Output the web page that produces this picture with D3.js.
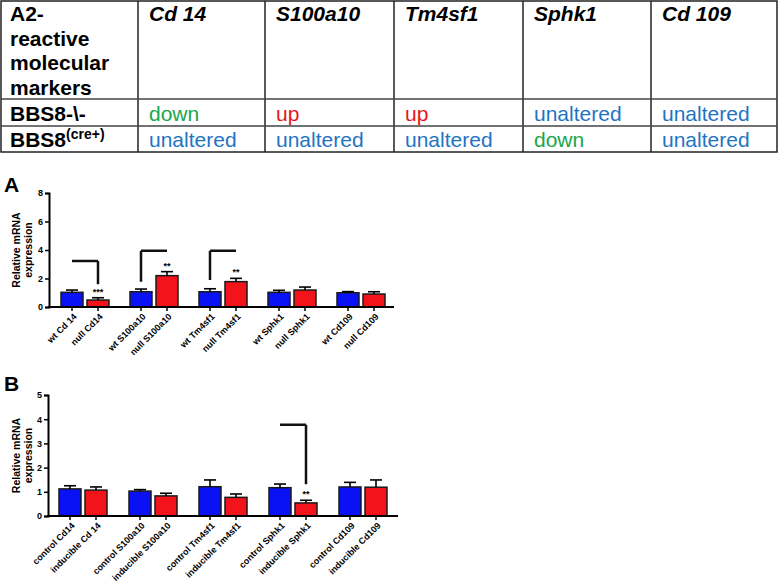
<!DOCTYPE html>
<html><head><meta charset="utf-8">
<script src="https://cdn.jsdelivr.net/npm/d3@7"></script>
<style>
body{margin:0;background:#fff;}
text{font-family:Arial,"Liberation Sans",Helvetica,sans-serif;}
</style></head>
<body>
<script>
// ---------- data ----------
const tableCorner = ["A2-", "reactive", "molecular", "markers"];
const tableGenes = ["Cd 14", "S100a10", "Tm4sf1", "Sphk1", "Cd 109"];
const rowNames = ["BBS8-\\-", "BBS8"];
const rowNull = ["down", "up", "up", "unaltered", "unaltered"];
const rowCre = ["unaltered", "unaltered", "unaltered", "down", "unaltered"];

const groups = ["Cd14", "S100a10", "Tm4sf1", "Sphk1", "Cd109"];
const labelsWtA = ["wt Cd 14", "wt S100a10", "wt Tm4sf1", "wt Sphk1", "wt Cd109"];
const labelsNullA = ["null Cd14", "null S100a10", "null Tm4sf1", "null Sphk1", "null Cd109"];
const wtA = [1.03, 1.07, 1.07, 1.03, 1.00];
const wtErrA = [0.16, 0.19, 0.21, 0.14, 0.08];
const nullA = [0.49, 2.20, 1.78, 1.19, 0.91];
const nullErrA = [0.16, 0.28, 0.23, 0.21, 0.16];
const starsA = ["***", "**", "**", "", ""];
const yTicksA = [0, 2, 4, 6, 8];
// brackets: group index, top value, bottom value, side of the vertical drop
const bracketsA = [
  {g: 0, top: 3.23, bottom: 1.60, side: "null"},
  {g: 1, top: 3.95, bottom: 1.77, side: "wt"},
  {g: 2, top: 3.95, bottom: 1.89, side: "wt"}
];

const labelsCtrlB = ["control Cd14", "control S100a10", "control Tm4sf1", "control Sphk1", "control Cd109"];
const labelsIndB = ["inducible  Cd 14", "inducible S100a10", "inducible Tm4sf1", "inducible Sphk1", "inducible  Cd109"];
const ctrlB = [1.12, 1.03, 1.21, 1.17, 1.20];
const ctrlErrB = [0.13, 0.06, 0.28, 0.15, 0.19];
const indB = [1.07, 0.83, 0.77, 0.54, 1.19];
const indErrB = [0.13, 0.11, 0.14, 0.11, 0.30];
const starsB = ["", "", "", "**", ""];
const yTicksB = [0, 1, 2, 3, 4, 5];
const bracketsB = [
  {g: 3, top: 3.77, bottom: 1.31, side: "null"}
];

// ---------- setup ----------
const W = 778, H = 583;
const svg = d3.select("body").append("svg").attr("width", W).attr("height", H);
const FONT = "Arial, 'Liberation Sans', Helvetica, sans-serif";

// ---------- table ----------
const colX = [1, 138, 265, 394, 523, 651, 777];
const rowY = [1, 99, 126, 152];
const tbl = svg.append("g");
const statusColor = {down: "#19a64d", up: "#e8161c", unaltered: "#1f74c2"};

tbl.append("rect").attr("x", colX[0]).attr("y", rowY[0])
  .attr("width", colX[6] - colX[0]).attr("height", rowY[3] - rowY[0])
  .attr("fill", "none").attr("stroke", "#222").attr("stroke-width", 1.5);
colX.slice(1, -1).forEach(x => tbl.append("line").attr("x1", x).attr("x2", x)
  .attr("y1", rowY[0]).attr("y2", rowY[3]).attr("stroke", "#222").attr("stroke-width", 1.5));
rowY.slice(1, -1).forEach(y => tbl.append("line").attr("x1", colX[0]).attr("x2", colX[6])
  .attr("y1", y).attr("y2", y).attr("stroke", "#444").attr("stroke-width", 1.5));

tableCorner.forEach((t, i) => tbl.append("text").attr("x", 10).attr("y", 21 + i * 24.5)
  .attr("font-size", 21).attr("font-weight", "bold").text(t));
tableGenes.forEach((t, i) => tbl.append("text").attr("x", colX[i + 1] + 11).attr("y", 21)
  .attr("font-size", 21).attr("font-weight", "bold").attr("font-style", "italic").text(t));

tbl.append("text").attr("x", 10).attr("y", 121).attr("font-size", 21).attr("font-weight", "bold").text(rowNames[0]);
const cre = tbl.append("text").attr("x", 10).attr("y", 147).attr("font-size", 21).attr("font-weight", "bold");
cre.append("tspan").text(rowNames[1]);
cre.append("tspan").attr("font-size", 14).attr("dy", -8).text("(cre+)");

rowNull.forEach((t, i) => tbl.append("text").attr("x", colX[i + 1] + 11).attr("y", 121)
  .attr("font-size", 21).attr("fill", statusColor[t]).text(t));
rowCre.forEach((t, i) => tbl.append("text").attr("x", colX[i + 1] + 11).attr("y", 147)
  .attr("font-size", 21).attr("fill", statusColor[t]).text(t));

// ---------- bar panels ----------
function panel(opt) {
  const g = svg.append("g");
  const x = d3.scaleBand().domain(groups).range([opt.x0, opt.x1]);
  const inner = d3.scaleBand().domain(["a", "b"]).range(opt.inner).paddingInner(4 / 26);
  const y = d3.scaleLinear().domain([0, opt.ymax]).range([opt.yBottom, opt.yTop]);

  // panel letter
  g.append("text").attr("x", 4).attr("y", opt.letterY).attr("font-size", 21)
    .attr("font-weight", "bold").text(opt.letter);

  // y label
  const yl = g.append("text").attr("transform", `translate(20,${(opt.yTop + opt.yBottom) / 2}) rotate(-90)`)
    .attr("text-anchor", "middle").attr("font-size", 10.5).attr("font-weight", "bold");
  yl.append("tspan").attr("x", 0).attr("dy", 0).text("Relative mRNA");
  yl.append("tspan").attr("x", 0).attr("dy", 11.5).text("expression");

  // y axis
  const ya = g.append("g").attr("transform", `translate(${opt.x0},0)`)
    .call(d3.axisLeft(y).tickValues(opt.ticks).tickFormat(d3.format("d")).tickSizeOuter(0).tickSize(4).tickPadding(2));
  ya.select(".domain").attr("stroke", "#000").attr("stroke-width", 2);
  ya.selectAll(".tick line").attr("stroke", "#000").attr("stroke-width", 1.5);
  ya.selectAll(".tick text").attr("font-family", FONT).attr("font-size", 9).attr("font-weight", "bold").attr("fill", "#000");

  const series = [
    {key: "a", vals: opt.v1, errs: opt.e1, labels: opt.l1, color: "#0a12f5"},
    {key: "b", vals: opt.v2, errs: opt.e2, labels: opt.l2, color: "#f2141a"}
  ];
  const bw = inner.bandwidth();
  series.forEach(s => {
    groups.forEach((grp, i) => {
      const bx = x(grp) + inner(s.key);
      const cx = bx + bw / 2;
      g.append("rect").attr("x", bx).attr("y", y(s.vals[i])).attr("width", bw)
        .attr("height", y(0) - y(s.vals[i])).attr("fill", s.color)
        .attr("stroke", "#1a1a1a").attr("stroke-width", 1.5);
      const et = y(s.vals[i] + s.errs[i]);
      g.append("line").attr("x1", cx).attr("x2", cx).attr("y1", y(s.vals[i])).attr("y2", et)
        .attr("stroke", "#000").attr("stroke-width", 1.6);
      g.append("line").attr("x1", cx - 6).attr("x2", cx + 6).attr("y1", et).attr("y2", et)
        .attr("stroke", "#000").attr("stroke-width", 1.6);
      // x tick
      g.append("line").attr("x1", cx).attr("x2", cx).attr("y1", y(0)).attr("y2", y(0) + 4)
        .attr("stroke", "#000").attr("stroke-width", 1.5);
      g.append("text").attr("transform", `translate(${cx + 3},${y(0) + 8}) rotate(-45)`)
        .attr("text-anchor", "end").attr("dy", "0.35em").attr("font-size", opt.labelSize)
        .attr("font-weight", "bold").text(s.labels[i]);
      if (s.key === "b" && opt.stars[i]) {
        g.append("text").attr("x", cx).attr("y", et - 3).attr("text-anchor", "middle")
          .attr("font-size", 9).attr("font-weight", "bold").text(opt.stars[i]);
      }
    });
  });

  // x axis line
  g.append("line").attr("x1", opt.x0 - 1).attr("x2", opt.x1).attr("y1", y(0)).attr("y2", y(0))
    .attr("stroke", "#000").attr("stroke-width", 2);

  // brackets
  opt.brackets.forEach(b => {
    const c1 = x(groups[b.g]) + inner("a") + bw / 2;
    const c2 = x(groups[b.g]) + inner("b") + bw / 2;
    const vx = b.side === "wt" ? c1 : c2;
    g.append("path")
      .attr("d", `M${c1},${y(b.top)}H${c2}M${vx},${y(b.top)}V${y(b.bottom)}`)
      .attr("fill", "none").attr("stroke", "#111").attr("stroke-width", 2.5);
  });
}

panel({
  letter: "A", letterY: 192, x0: 49, x1: 394, inner: [12, 60],
  yTop: 193, yBottom: 307, ymax: 8, ticks: yTicksA,
  v1: wtA, e1: wtErrA, l1: labelsWtA, v2: nullA, e2: nullErrA, l2: labelsNullA,
  stars: starsA, brackets: bracketsA, labelSize: 9
});
panel({
  letter: "B", letterY: 391, x0: 48, x1: 398, inner: [11, 59],
  yTop: 395, yBottom: 516, ymax: 5, ticks: yTicksB,
  v1: ctrlB, e1: ctrlErrB, l1: labelsCtrlB, v2: indB, e2: indErrB, l2: labelsIndB,
  stars: starsB, brackets: bracketsB, labelSize: 9
});
</script>
</body></html>
